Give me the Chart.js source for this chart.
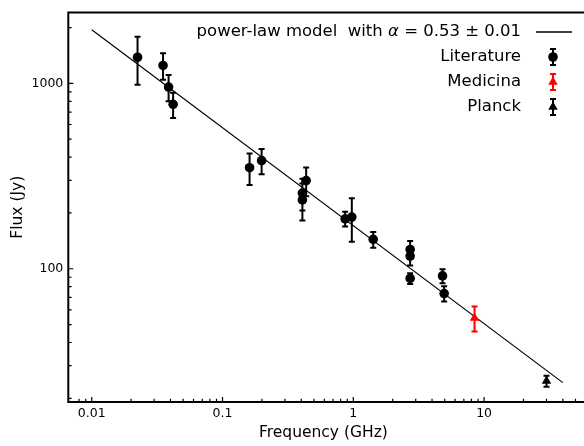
<!DOCTYPE html>
<html>
<head>
<meta charset="utf-8">
<script src="https://cdn.jsdelivr.net/npm/chart.js@4.4.0/dist/chart.umd.min.js"></script>
<style>
  html, body { margin: 0; padding: 0; background: #fff; }
  #wrap { width: 584px; height: 446px; position: relative; }
</style>
</head>
<body>
<div id="wrap"><canvas id="sedChart"></canvas></div>
<script>
// frequency (GHz), flux density (Jy), 1-sigma error (Jy)
const litFreq = [0.0224, 0.0351, 0.0387, 0.0419, 0.161, 0.199, 0.408, 0.408, 0.436, 0.866, 0.974, 1.42, 2.72, 2.72, 2.72, 4.81, 4.95];
const litFlux = [1384, 1250, 955, 771, 351, 383, 256, 235, 299, 186, 190, 144, 127, 117, 88.7, 91.5, 73.5];
const litErr  = [400, 205, 155, 120, 68, 60, 50, 53, 53, 17, 50, 14, 14, 13, 6, 8, 7];

const medFreq = [8.45];
const medFlux = [54.2];
const medErr  = [8.3];

const plkFreq = [30];
const plkFlux = [24.8];
const plkErr  = [1.7];

// power-law fit, end points of the drawn line
const modelFreq = [0.01, 40];
const modelFlux = [1950, 24.3];

const xTickLabels = ['0.01', '0.1', '1', '10'];
const yTickLabels = ['100', '1000'];

const FONT = '"DejaVu Sans", sans-serif';
Chart.defaults.font.family = FONT;
Chart.defaults.color = '#000';

function points(xs, ys) {
    return xs.map((v, i) => ({ x: v, y: ys[i] }));
}

// mantissa of a log tick, 0 when not a whole number
function mant(v) {
    const e = Math.floor(Math.log10(v) + 1e-9);
    const m = v / Math.pow(10, e);
    return Math.abs(m - Math.round(m)) < 1e-6 ? Math.round(m) : 0;
}

function pickLabel(labels, v) {
    const hit = labels.find(l => Math.abs(Math.log10(+l) - Math.log10(v)) < 1e-6);
    return hit || '';
}

// vertical error bars with caps, under the markers
const errorBars = {
    id: 'errorBars',
    beforeDatasetsDraw(chart) {
        const { ctx, scales: { x, y } } = chart;
        chart.data.datasets.forEach(ds => {
            if (!ds.errors) return;
            ctx.save();
            ctx.strokeStyle = ds.backgroundColor;
            ctx.lineWidth = 2;
            ctx.beginPath();
            ds.data.forEach((p, i) => {
                const px = x.getPixelForValue(p.x);
                const top = y.getPixelForValue(p.y + ds.errors[i]);
                const bot = y.getPixelForValue(p.y - ds.errors[i]);
                ctx.moveTo(px, top); ctx.lineTo(px, bot);
                ctx.moveTo(px - 3, top); ctx.lineTo(px + 3, top);
                ctx.moveTo(px - 3, bot); ctx.lineTo(px + 3, bot);
            });
            ctx.stroke();
            ctx.restore();
        });
    }
};

// spines and inward ticks
const frame = {
    id: 'frame',
    afterDraw(chart) {
        const { ctx, chartArea: a, scales: { x, y } } = chart;
        ctx.save();
        ctx.strokeStyle = '#000';
        ctx.lineWidth = 1.2;
        ctx.beginPath();
        x.ticks.forEach(t => {
            const m = mant(t.value);
            if (!m) return;
            const px = x.getPixelForValue(t.value);
            ctx.moveTo(px, a.bottom);
            ctx.lineTo(px, a.bottom - (m === 1 ? 5 : 3.3));
        });
        y.ticks.forEach(t => {
            const m = mant(t.value);
            if (!m) return;
            const py = y.getPixelForValue(t.value);
            ctx.moveTo(a.left, py);
            ctx.lineTo(a.left + (m === 1 ? 5 : 3.3), py);
        });
        ctx.stroke();

        // the right spine falls outside the picture
        ctx.lineWidth = 2;
        ctx.beginPath();
        ctx.moveTo(chart.width + 2, a.top);
        ctx.lineTo(a.left, a.top);
        ctx.lineTo(a.left, a.bottom);
        ctx.lineTo(chart.width + 2, a.bottom);
        ctx.stroke();
        ctx.restore();
    }
};

// matplotlib-style legend: text right-aligned, handle to the right
const legendBox = {
    id: 'legendBox',
    afterDraw(chart) {
        const ctx = chart.ctx;
        const textRight = 521, handleX = 553;
        const rows = [32, 57, 82, 107];
        ctx.save();
        ctx.fillStyle = '#000';
        ctx.textBaseline = 'middle';
        ctx.textAlign = 'left';

        // row 1: model line
        const plain = '16.5px ' + FONT, ital = 'italic 16.5px ' + FONT;
        const parts = [['power-law model  with ', plain], ['\u03b1', ital], [' = 0.53 \u00b1 0.01', plain]];
        let w = 0;
        parts.forEach(p => { ctx.font = p[1]; w += ctx.measureText(p[0]).width; });
        let cx = textRight - w;
        parts.forEach(p => {
            ctx.font = p[1];
            ctx.fillText(p[0], cx, rows[0]);
            cx += ctx.measureText(p[0]).width;
        });
        ctx.strokeStyle = '#000';
        ctx.lineWidth = 1.5;
        ctx.beginPath();
        ctx.moveTo(536, rows[0]); ctx.lineTo(572, rows[0]);
        ctx.stroke();

        // rows 2-4: error bar series
        ctx.font = plain;
        ctx.textAlign = 'right';
        const series = chart.data.datasets.filter(ds => ds.errors);
        series.forEach((ds, i) => {
            const yy = rows[i + 1];
            ctx.fillStyle = '#000';
            ctx.fillText(ds.label, textRight, yy);
            ctx.strokeStyle = ds.backgroundColor;
            ctx.fillStyle = ds.backgroundColor;
            ctx.lineWidth = 2;
            ctx.beginPath();
            ctx.moveTo(handleX, yy - 8); ctx.lineTo(handleX, yy + 8);
            ctx.moveTo(handleX - 3, yy - 8); ctx.lineTo(handleX + 3, yy - 8);
            ctx.moveTo(handleX - 3, yy + 8); ctx.lineTo(handleX + 3, yy + 8);
            ctx.stroke();
            Chart.helpers.drawPoint(ctx, {
                pointStyle: ds.pointStyle, radius: ds.pointRadius, rotation: 0, borderWidth: 0
            }, handleX, yy);
        });
        ctx.restore();
    }
};

new Chart(document.getElementById('sedChart'), {
    type: 'scatter',
    data: {
        datasets: [
            {
                type: 'line',
                label: 'power-law model',
                data: points(modelFreq, modelFlux),
                borderColor: '#000',
                borderWidth: 1.2,
                pointRadius: 0,
                fill: false,
                order: 10
            },
            {
                label: 'Literature',
                data: points(litFreq, litFlux),
                errors: litErr,
                backgroundColor: '#000',
                borderWidth: 0,
                pointStyle: 'circle',
                pointRadius: 4.8
            },
            {
                label: 'Medicina',
                data: points(medFreq, medFlux),
                errors: medErr,
                backgroundColor: '#ff0000',
                borderWidth: 0,
                pointStyle: 'triangle',
                pointRadius: 5.5
            },
            {
                label: 'Planck',
                data: points(plkFreq, plkFlux),
                errors: plkErr,
                backgroundColor: '#000',
                borderWidth: 0,
                pointStyle: 'triangle',
                pointRadius: 5.5
            }
        ]
    },
    options: {
        responsive: true,
        maintainAspectRatio: false,
        animation: false,
        layout: { padding: { top: 10, right: 0, left: 0, bottom: 0 } },
        plugins: { legend: { display: false }, tooltip: { enabled: false } },
        scales: {
            x: {
                type: 'logarithmic',
                min: 0.00662,
                max: 52.7,
                grid: { display: false, drawTicks: false },
                border: { display: false },
                ticks: {
                    autoSkip: false,
                    maxRotation: 0,
                    padding: 4,
                    font: { size: 12.5 },
                    callback: v => pickLabel(xTickLabels, v)
                },
                title: {
                    display: true,
                    text: 'Frequency (GHz)',
                    font: { size: 15.5 },
                    padding: { top: 0, bottom: 4 }
                },
                afterFit: s => { s.height = 44; }
            },
            y: {
                type: 'logarithmic',
                min: 19.1,
                max: 2413,
                grid: { display: false, drawTicks: false },
                border: { display: false },
                ticks: {
                    autoSkip: false,
                    padding: 5,
                    font: { size: 12.5 },
                    callback: v => pickLabel(yTickLabels, v)
                },
                title: {
                    display: true,
                    text: 'Flux (Jy)',
                    font: { size: 15.5 },
                    padding: { top: 9, bottom: 0 }
                },
                afterFit: s => { s.width = 68.3; }
            }
        }
    },
    plugins: [errorBars, frame, legendBox]
});
</script>
</body>
</html>
